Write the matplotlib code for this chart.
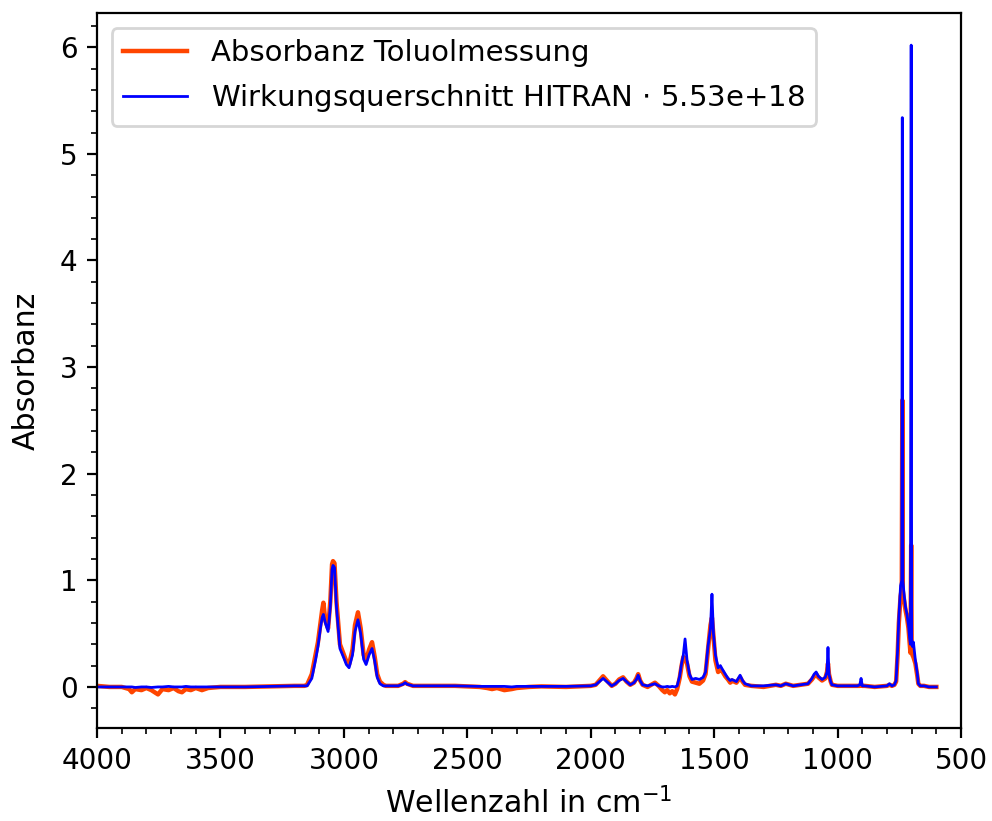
import numpy as np
import matplotlib
matplotlib.use("Agg")
from matplotlib import pyplot as plt
from matplotlib.ticker import MultipleLocator

# wavenumber grid (cm^-1) and the two spectra on it
wellenzahl = [
    # baseline 4000-3160
    4000, 3950, 3900, 3870, 3859, 3845, 3820, 3800, 3780, 3753, 3735, 3710, 3690,
    3670, 3656, 3640, 3620, 3600, 3575, 3550, 3500, 3400, 3300, 3200, 3160,
    # CH stretch band
    3149, 3130, 3115, 3105, 3095, 3088, 3083, 3075, 3064, 3055, 3048, 3044, 3038,
    3030, 3016, 3000, 2990, 2979, 2965, 2955, 2943, 2932, 2920, 2910, 2898, 2886,
    2875, 2865, 2854, 2840, 2830,
    # 2830-2000
    2780, 2760, 2752, 2744, 2720, 2650, 2550, 2450, 2420, 2400, 2380, 2350, 2320,
    2300, 2250, 2200, 2100, 2000,
    # overtones and 1600 band
    1980, 1965, 1950, 1935, 1915, 1900, 1885, 1869, 1855, 1840, 1825, 1815, 1808,
    1800, 1790, 1770, 1755, 1740, 1725, 1710, 1700, 1690, 1680, 1670, 1659, 1650,
    1640, 1632, 1625, 1618, 1610, 1600, 1590, 1575, 1560,
    # 1500 band and fingerprint
    1545, 1535, 1525, 1515, 1509, 1503, 1495, 1484, 1475, 1468, 1455, 1444, 1435,
    1428, 1410, 1395, 1385, 1375, 1350, 1300, 1250, 1230, 1210, 1180, 1150, 1120,
    1104, 1095, 1087, 1078, 1063, 1050, 1043, 1039, 1035, 1028, 1023, 1000,
    # 730/695 band
    950, 920, 910, 905, 900, 890, 850, 800, 790, 780, 770, 763, 757, 752, 745, 740,
    738, 736, 730, 725, 719, 713, 708, 705, 702, 700, 697, 693, 685, 677, 673, 665,
    650, 630, 600,
]

absorbanz = [
    0.01, 0.0, 0.0, -0.02, -0.05, -0.02, -0.03, -0.01, -0.03, -0.07, -0.02, -0.03, -0.01,
    -0.04, -0.05, -0.02, -0.03, -0.01, -0.03, -0.01, 0.0, 0.0, 0.005, 0.01, 0.01,

    0.02, 0.12, 0.30, 0.42, 0.60, 0.72, 0.79, 0.62, 0.55, 0.80, 1.15, 1.18, 1.16,
    0.80, 0.40, 0.30, 0.24, 0.21, 0.35, 0.58, 0.70, 0.55, 0.30, 0.25, 0.35, 0.42,
    0.28, 0.12, 0.05, 0.02, 0.01,

    0.01, 0.03, 0.045, 0.03, 0.01, 0.01, 0.01, 0.0, -0.01, -0.02, -0.01, -0.03, -0.02,
    -0.01, 0.0, 0.005, 0.0, 0.01,

    0.02, 0.06, 0.10, 0.06, 0.01, 0.03, 0.07, 0.09, 0.05, 0.02, 0.04, 0.08, 0.12,
    0.06, 0.02, 0.0, 0.02, 0.04, 0.01, -0.03, -0.05, -0.03, -0.06, -0.04, -0.07, -0.02,
    0.08, 0.20, 0.28, 0.27, 0.22, 0.10, 0.05, 0.04, 0.03,

    0.06, 0.12, 0.35, 0.58, 0.65, 0.48, 0.25, 0.14, 0.17, 0.15, 0.10, 0.07, 0.04,
    0.06, 0.04, 0.09, 0.05, 0.02, 0.01, 0.0, 0.02, 0.01, 0.03, 0.01, 0.02, 0.03,
    0.07, 0.10, 0.12, 0.09, 0.06, 0.08, 0.14, 0.22, 0.12, 0.05, 0.02, 0.01,

    0.01, 0.01, 0.01, 0.02, 0.01, 0.01, 0.0, 0.01, 0.02, 0.01, 0.02, 0.05, 0.30, 0.60, 0.85, 0.92,
    2.69, 0.90, 0.80, 0.72, 0.65, 0.55, 0.40, 0.32, 1.33, 0.35, 0.30, 0.28, 0.22, 0.10, 0.03, 0.01,
    0.01, 0.0, 0.0,
]

# HITRAN cross section, already multiplied by the scale factor
hitran = [
    0.0, 0.0, 0.0, 0.0, 0.0, -0.005, 0.0, 0.0, -0.005, 0.0, 0.0, 0.005, 0.0,
    0.0, 0.0, 0.005, 0.0, 0.0, 0.0, 0.0, 0.0, 0.0, 0.005, 0.01, 0.01,

    0.01, 0.08, 0.25, 0.38, 0.55, 0.65, 0.68, 0.60, 0.52, 0.75, 1.10, 1.14, 1.12,
    0.75, 0.36, 0.27, 0.21, 0.18, 0.30, 0.52, 0.63, 0.50, 0.26, 0.21, 0.30, 0.36,
    0.24, 0.09, 0.03, 0.01, 0.01,

    0.01, 0.025, 0.04, 0.025, 0.01, 0.01, 0.01, 0.005, 0.005, 0.005, 0.005, 0.005, 0.0,
    0.005, 0.005, 0.005, 0.005, 0.01,

    0.02, 0.05, 0.08, 0.05, 0.01, 0.03, 0.06, 0.08, 0.05, 0.02, 0.04, 0.07, 0.11,
    0.06, 0.02, 0.01, 0.02, 0.03, 0.01, 0.0, 0.0, 0.005, 0.0, 0.005, 0.0, 0.01,
    0.10, 0.22, 0.30, 0.45, 0.25, 0.12, 0.07, 0.08, 0.07,

    0.09, 0.14, 0.38, 0.55, 0.87, 0.50, 0.30, 0.18, 0.20, 0.17, 0.12, 0.08, 0.06,
    0.07, 0.05, 0.11, 0.06, 0.03, 0.01, 0.01, 0.02, 0.01, 0.03, 0.01, 0.02, 0.03,
    0.08, 0.12, 0.14, 0.10, 0.07, 0.09, 0.14, 0.37, 0.12, 0.05, 0.02, 0.01,

    0.01, 0.01, 0.02, 0.08, 0.01, 0.01, 0.0, 0.01, 0.03, 0.01, 0.02, 0.06, 0.35, 0.65, 0.95, 1.0,
    5.34, 1.0, 0.85, 0.75, 0.68, 0.58, 0.45, 0.40, 6.02, 0.45, 0.38, 0.42, 0.25, 0.12, 0.03, 0.01,
    0.01, 0.0, 0.0,
]

faktor = 5.53e18

fig = plt.figure(figsize=(4.96, 4.105), dpi=200)
ax = fig.add_axes([0.0978, 0.1133, 0.8710, 0.8707])

ax.plot(wellenzahl, absorbanz, color="orangered", lw=1.6, label="Absorbanz Toluolmessung")
ax.plot(wellenzahl, hitran, color="blue", lw=1.0,
        label="Wirkungsquerschnitt HITRAN $\\cdot$ %.2e" % faktor)

ax.set_xlim(4000, 500)
ax.set_ylim(-0.385, 6.32)
ax.xaxis.set_major_locator(MultipleLocator(500))
ax.xaxis.set_minor_locator(MultipleLocator(100))
ax.yaxis.set_major_locator(MultipleLocator(1))
ax.yaxis.set_minor_locator(MultipleLocator(0.2))
ax.tick_params(labelsize=10)

ax.set_xlabel("Wellenzahl in cm$^{-1}$", fontsize=10.8)
ax.set_ylabel("Absorbanz", fontsize=10.8, labelpad=7)
ax.legend(loc="upper left", fontsize=10.5, handlelength=2.2)

fig.savefig("out.png", dpi=200)
